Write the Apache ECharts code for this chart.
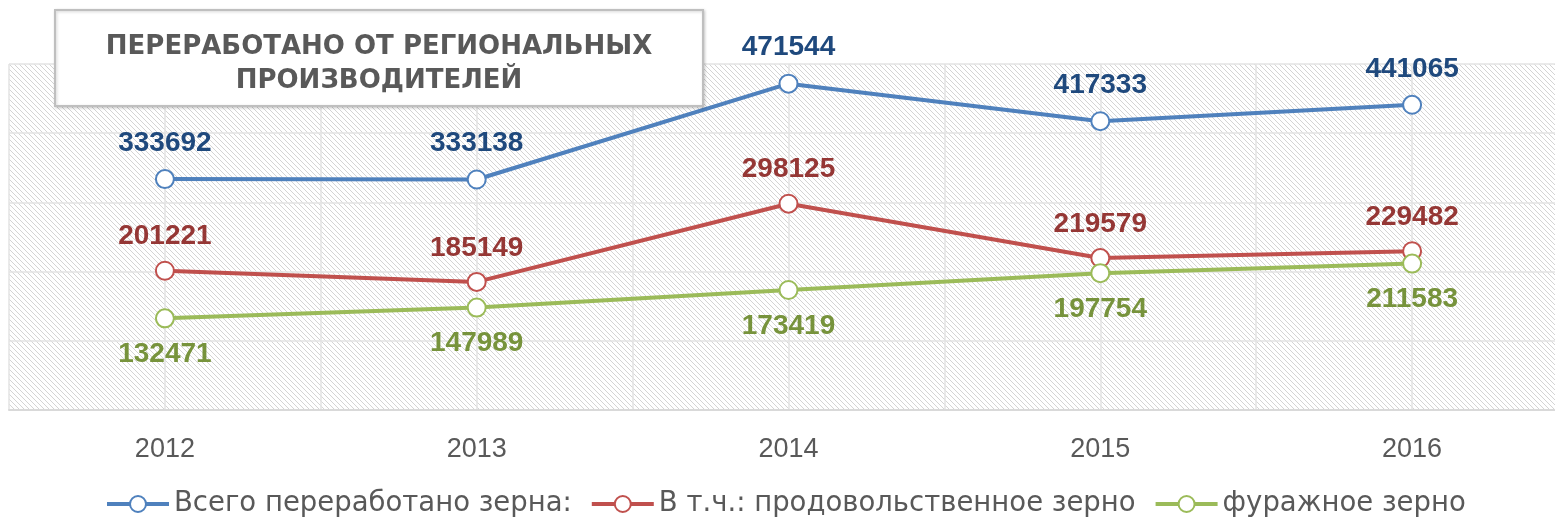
<!DOCTYPE html>
<html>
<head>
<meta charset="utf-8">
<script src="https://cdn.jsdelivr.net/npm/echarts@6/dist/echarts.min.js"></script>
<style>
  html, body { margin: 0; padding: 0; background: #fff; }
  #main { width: 1555px; height: 520px; }
</style>
</head>
<body>
<div id="main"></div>
<script>
// данные
var years = ['2012', '2013', '2014', '2015', '2016'];
var seriesNames = ['Всего переработано зерна:', 'В т.ч.: продовольственное зерно', 'фуражное зерно'];
var totalGrain = [333692, 333138, 471544, 417333, 441065];
var foodGrain = [201221, 185149, 298125, 219579, 229482];
var feedGrain = [132471, 147989, 173419, 197754, 211583];
var titleLines = ['ПЕРЕРАБОТАНО ОТ РЕГИОНАЛЬНЫХ', 'ПРОИЗВОДИТЕЛЕЙ'];
var lineColors = ['#4f81bd', '#c0504d', '#9bbb59'];

// штриховка фона (диагональ "\")
function makeHatch() {
  var n = 5;
  var c = document.createElement('canvas');
  c.width = n; c.height = n;
  var ctx = c.getContext('2d');
  ctx.fillStyle = '#fff';
  ctx.fillRect(0, 0, n, n);
  ctx.fillStyle = '#d4d4d4';
  for (var i = 0; i < n; i++) ctx.fillRect(i, i, 1, 1);
  return c;
}

function toPairs(arr) {
  return arr.map(function (v, i) { return [i, v]; });
}

var chart = echarts.init(document.getElementById('main'));

function lineSeries(name, data, lineColor, labelColor, pos, dist) {
  return {
    name: name,
    type: 'line',
    data: toPairs(data),
    symbol: 'emptyCircle',
    symbolSize: 18,
    lineStyle: { color: lineColor, width: 4 },
    itemStyle: { color: lineColor, borderColor: lineColor, borderWidth: 3.5 },
    label: {
      show: true,
      position: pos,
      distance: dist,
      color: labelColor,
      fontFamily: 'Liberation Sans',
      fontWeight: 'bold',
      fontSize: 28
    },
    z: 3
  };
}

var option = {
  backgroundColor: '#fff',
  animation: false,
  grid: {
    left: 9,
    top: 64,
    width: 1559,
    height: 346,
    outerBoundsMode: 'none',
    containLabel: false,
    show: true,
    borderWidth: 0,
    backgroundColor: { image: makeHatch(), repeat: 'repeat' }
  },
  xAxis: {
    type: 'value',
    min: -0.5,
    max: 4.5,
    interval: 0.5,
    axisLine: { show: true, lineStyle: { color: '#d9d9d9', width: 2 } },
    axisTick: { show: false },
    splitLine: { show: true, lineStyle: { color: '#e3e3e3', width: 1.5 } },
    axisLabel: {
      margin: 26,
      color: '#595959',
      fontFamily: 'Liberation Sans',
      fontSize: 27,
      formatter: function (v) {
        return Number.isInteger(v) && years[v] ? years[v] : '';
      }
    }
  },
  yAxis: {
    type: 'value',
    min: 0,
    max: 500000,
    interval: 100000,
    axisLine: { show: false },
    axisTick: { show: false },
    axisLabel: { show: false },
    splitLine: { show: true, lineStyle: { color: '#e3e3e3', width: 1.5 } }
  },
  legend: {
    data: seriesNames.map(function (n, i) {
      return {
        name: n,
        itemStyle: { borderColor: lineColors[i], borderWidth: 3.5 },
        lineStyle: { width: 4 }
      };
    }),
    left: 100,
    top: 485,
    itemWidth: 62,
    itemHeight: 20,
    itemGap: 18,
    textStyle: { color: '#595959', fontFamily: 'DejaVu Sans', fontSize: 27.5 }
  },
  graphic: [{
    type: 'rect',
    z: 100,
    shape: { x: 55, y: 10, width: 648, height: 96 },
    style: {
      fill: '#fff', stroke: '#bfbfbf', lineWidth: 2,
      shadowBlur: 3, shadowColor: 'rgba(0,0,0,0.18)', shadowOffsetX: 1, shadowOffsetY: 1
    }
  }, {
    type: 'text',
    z: 101,
    x: 379,
    y: 64,
    style: {
      text: titleLines.join('\n'),
      align: 'center',
      verticalAlign: 'middle',
      lineHeight: 34,
      fill: '#595959',
      font: 'bold 26px "DejaVu Sans"'
    }
  }],
  series: [
    lineSeries(seriesNames[0], totalGrain, lineColors[0], '#1f497d', 'top', 12),
    lineSeries(seriesNames[1], foodGrain, lineColors[1], '#953735', 'top', 10),
    lineSeries(seriesNames[2], feedGrain, lineColors[2], '#77933c', 'bottom', 12)
  ]
};

chart.setOption(option);
</script>
</body>
</html>
